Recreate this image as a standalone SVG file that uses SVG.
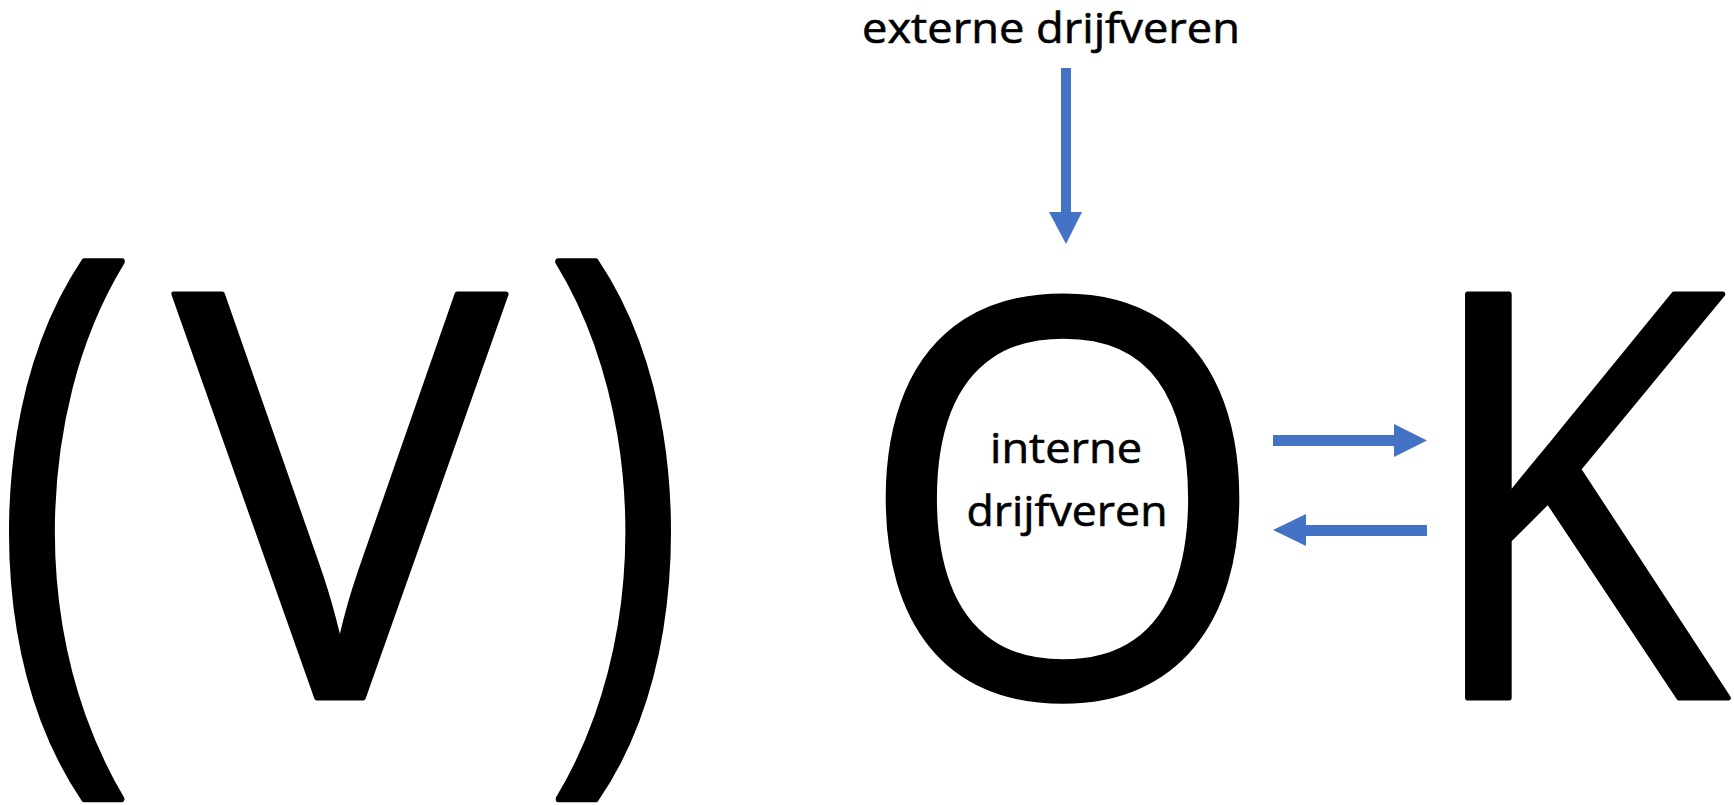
<svg xmlns="http://www.w3.org/2000/svg" width="1734" height="805" viewBox="0 0 1734 805">
  <style>
    .big { font-family: "Open Sans", "Noto Sans", "Liberation Sans", sans-serif; font-size: 566px; fill: #000; stroke: #000; stroke-width: 5px; stroke-linejoin: round; }
    .mid { text-anchor: middle; }
    .lbl { font-family: "Open Sans", "Noto Sans", "Liberation Sans", sans-serif; font-size: 42px; fill: #000; stroke: #000; stroke-width: 0.6px; text-anchor: middle; }
    .arrow { fill: #4472C4; stroke: none; }
  </style>
  <rect width="1734" height="805" fill="#fff"/>
  <g id="paren-open"><text class="big mid" transform="translate(64.5,701.5) scale(0.87,1.089)" x="0" y="0" style="stroke-width:6px">(</text></g>
  <g id="node-V"><text class="big mid" transform="translate(340,698) scale(0.985,1)" x="0" y="0">V</text></g>
  <g id="paren-close"><text class="big mid" transform="translate(615.5,701.5) scale(0.87,1.089)" x="0" y="0" style="stroke-width:6px">)</text></g>
  <g id="node-O">
    <text class="big mid" transform="translate(1062.5,696) scale(0.94,0.975)" x="0" y="0">O</text>
    <text class="lbl" x="1066" y="463" textLength="152" lengthAdjust="spacingAndGlyphs">interne</text>
    <text class="lbl" x="1067" y="526" textLength="201" lengthAdjust="spacingAndGlyphs">drijfveren</text>
  </g>
  <g id="node-K"><text class="big" transform="translate(1417.7,698) scale(0.897,1)" x="0" y="0">K</text></g>
  <g id="label-extern"><text class="lbl" x="1051" y="43" textLength="378" lengthAdjust="spacingAndGlyphs">externe drijfveren</text></g>
  <g id="connectors">
    <polygon class="arrow" points="1061,68 1071,68 1071,212 1082,212 1066,244 1049,212 1061,212"/>
    <polygon class="arrow" points="1273,435 1394,435 1394,424 1427,440.5 1394,457 1394,446 1273,446"/>
    <polygon class="arrow" points="1427,525 1306,525 1306,514 1273,530 1306,546 1306,536 1427,536"/>
  </g>
</svg>
